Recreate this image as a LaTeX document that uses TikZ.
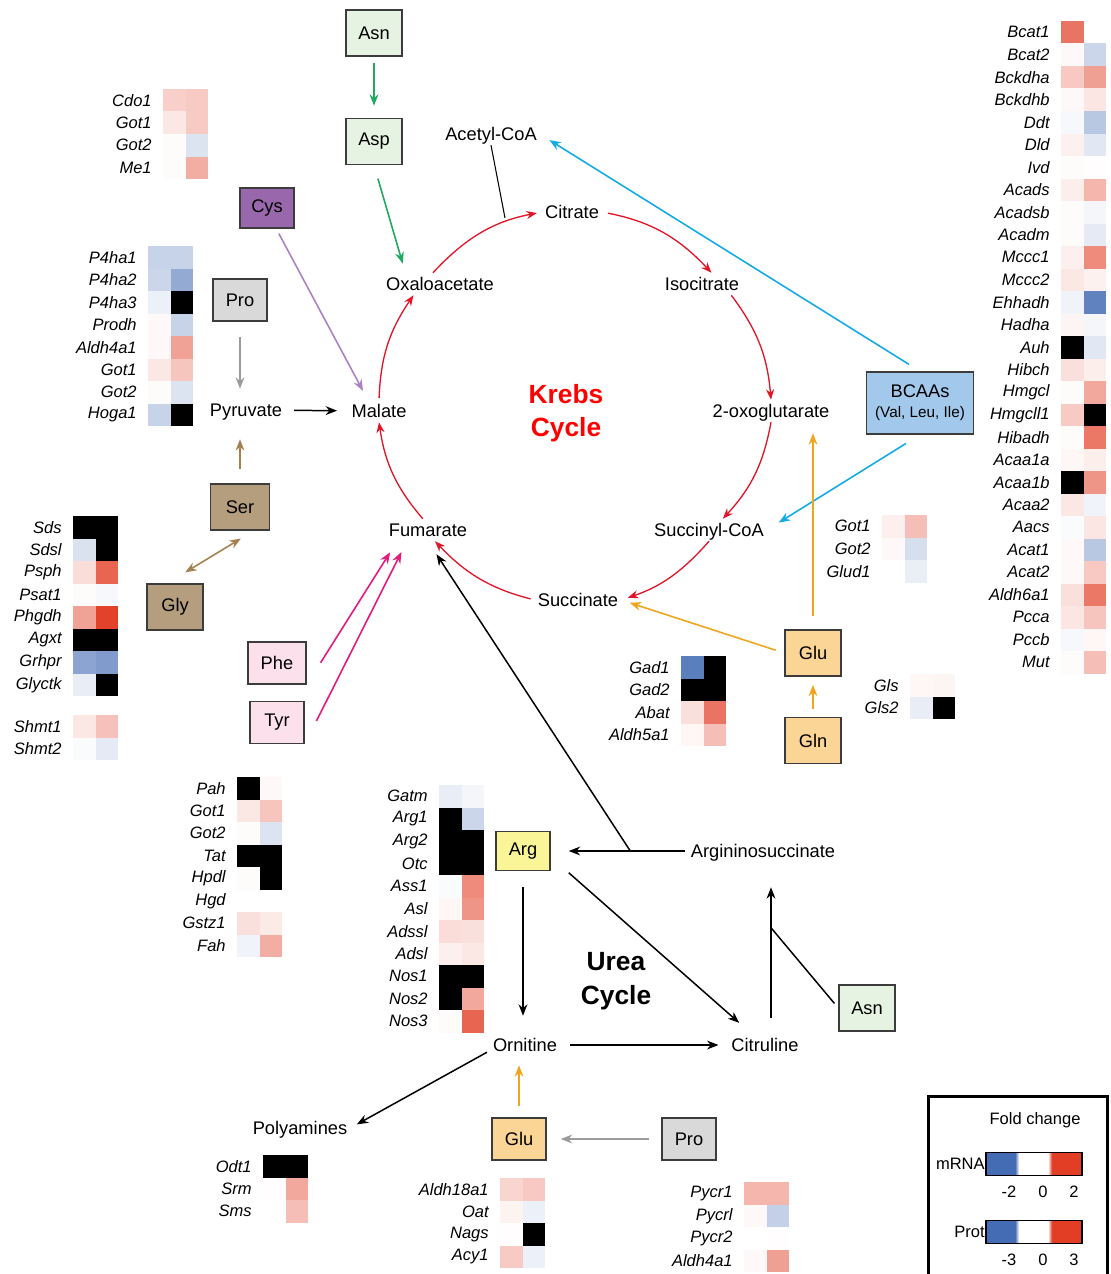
\documentclass[tikz,border=0pt]{standalone}
\usepackage{fontspec}
\setmainfont{Liberation Sans}
\usetikzlibrary{calc,positioning,arrows.meta}

\definecolor{hred}{RGB}{226,62,38}
\definecolor{hblue}{RGB}{68,108,180}
\definecolor{krebsred}{RGB}{225,20,40}
\definecolor{boxline}{RGB}{60,60,60}
\definecolor{fgreen}{RGB}{230,243,226}
\definecolor{agreen}{RGB}{30,170,95}
\definecolor{fpurple}{RGB}{153,104,172}
\definecolor{apurple}{RGB}{170,130,195}
\definecolor{fgray}{RGB}{217,217,217}
\definecolor{agray}{RGB}{155,155,155}
\definecolor{ftan}{RGB}{181,158,125}
\definecolor{atan}{RGB}{165,128,80}
\definecolor{fpink}{RGB}{252,225,236}
\definecolor{amag}{RGB}{230,25,125}
\definecolor{fblue}{RGB}{162,201,236}
\definecolor{ablue}{RGB}{20,170,230}
\definecolor{forange}{RGB}{250,213,150}
\definecolor{aorange}{RGB}{240,165,30}
\definecolor{fyellow}{RGB}{250,245,150}

% one heat map cell: x, y (top), value (999 = black, -999 = empty)
\newcommand{\hcell}[3]{%
  \ifnum#3=999
    \fill[black] (#1,-#2) rectangle ++(22.6,-22.6);
  \else\ifnum#3=-999\relax
  \else\ifnum#3<0
    \edef\hv{\number\numexpr 0-#3\relax}%
    \fill[hblue!\hv!white] (#1,-#2) rectangle ++(22.6,-22.6);
  \else
    \fill[hred!#3!white] (#1,-#2) rectangle ++(22.6,-22.6);
  \fi\fi\fi}

% gene list with two columns (mRNA, Prot)
\newcommand{\genemap}[4]{%
  \foreach \g/\a/\b [count=\i] in {#4} {
    \pgfmathsetmacro\yy{#3+22.5*(\i-1)}
    \pgfmathsetmacro\xx{#2+22.5}
    \hcell{#2}{\yy}{\a}
    \hcell{\xx}{\yy}{\b}
    \node[gene] (#1-\i) at (#2-11,-\yy-11.25) {\g};
  }}

\begin{document}
\begin{tikzpicture}[
    x=0.02cm, y=0.02cm,
    every node/.append style={inner sep=2pt},
    >={Stealth[length=6.5pt,width=5pt]},
    met/.style={font=\fontsize{10.4}{12}\selectfont, text height=8.4pt, text depth=1pt, inner sep=1.5pt},
    box/.style={draw=boxline, line width=0.85pt, font=\fontsize{10.4}{12}\selectfont,
                minimum width=1.08cm, minimum height=0.84cm},
    tall/.style={minimum width=1.12cm, minimum height=0.92cm},
    gene/.style={font=\fontsize{9.4}{11}\selectfont\itshape, anchor=east, inner sep=0pt},
    cycname/.style={font=\fontsize{15}{19}\selectfont\bfseries, align=center},
    legtxt/.style={font=\fontsize{9.4}{11}\selectfont, inner sep=0pt},
    krebs/.style={krebsred, line width=0.75pt, ->, >={Stealth[length=6pt,width=4.6pt]}},
    blackarr/.style={black, line width=0.85pt, ->},
    greenarr/.style={agreen, line width=0.9pt, ->},
    purplearr/.style={apurple, line width=0.9pt, ->},
    grayarr/.style={agray, line width=0.9pt, ->},
    tanarr/.style={atan, line width=0.9pt, ->},
    magarr/.style={amag, line width=0.9pt, ->},
    bluearr/.style={ablue, line width=0.9pt, ->},
    orangearr/.style={aorange, line width=0.9pt, ->}
  ]
  \useasboundingbox (0,0) rectangle (1110,-1274);

  % Krebs cycle
  \node[met] (ACoA) at (491,-134) {Acetyl-CoA};
  \node[met] (Cit)  at (572,-212) {Citrate};
  \node[met] (Oxa)  at (440,-284) {Oxaloacetate};
  \node[met] (Iso)  at (702,-284) {Isocitrate};
  \node[met] (Mal)  at (379,-411) {Malate};
  \node[met] (Oxo)  at (771,-411) {2-oxoglutarate};
  \node[met] (Fum)  at (428,-530) {Fumarate};
  \node[met] (SCoA) at (709,-530) {Succinyl-CoA};
  \node[met] (Suc)  at (578,-600) {Succinate};
  \node[met] (Pyr)  at (246,-410) {Pyruvate};
  \node[cycname, text=red] (KC) at (566,-413) {Krebs\\Cycle};

  \draw[krebs, shorten <=1pt] (Mal.north) to[bend left=16] (Oxa.203);
  \draw[krebs, shorten >=3pt] (Oxa.122) to[bend left=18] (Cit.west);
  \draw[krebs, shorten <=3.5pt] (Cit.east) to[bend left=18] (Iso.50);
  \draw[krebs] (Iso.-21) to[bend left=16] (Oxo.north);
  \draw[krebs] (Oxo.south) to[bend left=16] (SCoA.39);
  \draw[krebs, shorten >=4pt] (SCoA.south) to[bend left=15] (Suc.east);
  \draw[krebs, shorten <=2.5pt] (Suc.west) to[bend left=16] (Fum.-58);
  \draw[krebs] (Fum.115) to[bend left=16] (Mal.south);
  \coordinate (CitIn) at (505,-218);
  \draw[line width=0.6pt] (ACoA.south) -- (CitIn);

  % amino acids around the Krebs cycle
  \node[box, tall, fill=fgreen] (Asn) at (374,-33) {Asn};
  \node[box, tall, fill=fgreen, below=1.22cm of Asn] (Asp) {Asp};
  \node[box, fill=fpurple, minimum height=0.8cm] (Cys) at (267,-208) {Cys};
  \node[box, fill=fgray] (Pro) at (240,-300) {Pro};
  \node[box, tall, minimum width=1.18cm, fill=ftan] (Ser) at (240,-507) {Ser};
  \node[box, tall, fill=ftan] (Gly) at (175,-607) {Gly};
  \node[box, minimum width=1.16cm, fill=fpink] (Phe) at (277,-663) {Phe};
  \node[box, fill=fpink, below=0.32cm of Phe] (Tyr) {Tyr};
  \node[box, fill=fblue, minimum width=2.14cm, minimum height=1.24cm, align=center,
        font=\fontsize{10.4}{11.5}\selectfont] (BCAA) at (920,-403)
        {BCAAs\\{\fontsize{8.7}{10}\selectfont (Val, Leu, Ile)}};
  \node[box, tall, fill=forange] (Glu) at (813,-653) {Glu};
  \node[box, tall, fill=forange, below=0.8cm of Glu] (Gln) {Gln};

  \draw[greenarr, shorten <=0.12cm, shorten >=0.24cm] (Asn) -- (Asp);
  \draw[greenarr, shorten <=0.28cm, shorten >=0.19cm] (Asp.south) -- (Oxa.162);
  \draw[purplearr, shorten <=0.11cm, shorten >=0.2cm] (Cys.-66) -- (Mal.135);
  \draw[grayarr, shorten <=0.3cm, shorten >=0.2cm] (Pro.south) -- (Pro.south |- Pyr.north);
  \draw[tanarr, shorten <=0.28cm, shorten >=0.36cm] (Ser.north) -- (Ser.north |- Pyr.south);
  \draw[blackarr, shorten <=0.18cm, shorten >=0.23cm] (Pyr) -- (Mal);
  \draw[tanarr, <->, shorten <=0.3cm, shorten >=0.42cm] (Ser.-60) -- (Gly.108);
  \draw[magarr, shorten <=0.52cm, shorten >=0.26cm] (Phe.south east) -- (Fum.200);
  \draw[magarr, shorten <=0.52cm, shorten >=0.24cm] (Tyr.south east) -- (Fum.208);
  \draw[bluearr, shorten <=0.26cm, shorten >=0.23cm] (BCAA.north) -- (ACoA.east);
  \draw[bluearr, shorten <=0.33cm, shorten >=0.28cm] (BCAA.south) -- (SCoA.east);
  \draw[orangearr, shorten <=0.26cm, shorten >=0.22cm] (Glu.north) -- (Glu.north |- Oxo.south);
  \draw[orangearr, shorten <=0.18cm, shorten >=0.18cm] (Glu.west) -- (Suc.east);
  \draw[orangearr, shorten <=0.16cm, shorten >=0.16cm] (Gln) -- (Glu);

  % Urea cycle
  \node[met] (ASuc) at (763,-851) {Argininosuccinate};
  \node[met] (Orn)  at (525,-1045) {Ornitine};
  \node[met] (Ctl)  at (765,-1045) {Citruline};
  \node[met] (Poly) at (300,-1128) {Polyamines};
  \node[cycname] (UC) at (616,-981) {Urea\\Cycle};
  \node[box, fill=fyellow, minimum height=0.78cm] (Arg) at (523,-851) {Arg};
  \node[box, tall, fill=fgreen] (AsnU) at (867,-1008) {Asn};
  \node[box, fill=forange] (GluU) at (519,-1139) {Glu};
  \node[box, fill=fgray] (ProU) at (689,-1139) {Pro};

  \draw[blackarr, shorten <=0.06cm, shorten >=0.36cm] (ASuc.west) -- (Arg.east);
  \draw[blackarr, shorten >=0.31cm] ($(Arg.east)!0.58!(ASuc.west)$) -- (Fum.south);
  \draw[blackarr, shorten <=0.32cm, shorten >=0.36cm] (Arg.south) -- (Arg.south |- Orn.north);
  \draw[blackarr, shorten <=0.48cm, shorten >=0.33cm] (Arg.-12) -- (Ctl.140);
  \draw[blackarr, shorten <=0.2cm, shorten >=0.2cm] (Orn) -- (Ctl);
  \draw[blackarr, shorten <=0.32cm, shorten >=0.5cm] ([xshift=0.12cm]Ctl.north) -- ([xshift=0.12cm]Ctl.north |- ASuc.south);
  \path ([xshift=0.12cm]Ctl.north) ++(0,106) coordinate (Join);
  \draw[line width=0.85pt, shorten <=0.12cm] (AsnU.west) -- (Join);
  \draw[blackarr, shorten <=0.07cm, shorten >=0.15cm] (Orn.189) -- (Poly.east);
  \draw[orangearr, shorten <=0.22cm, shorten >=0.18cm] (GluU.north) -- (GluU.north |- Orn.south);
  \draw[grayarr, shorten <=0.24cm, shorten >=0.28cm] (ProU) -- (GluU);

  % heat maps
  \genemap{cdo}{163}{89}{Cdo1/25/27, Got1/12/27, Got2/2/-18, Me1/2/42}
  \genemap{p4h}{148}{246}{P4ha1/-30/-30, P4ha2/-28/-58, P4ha3/-10/999, Prodh/3/-30,
    Aldh4a1/3/48, Got1/12/30, Got2/2/-18, Hoga1/-30/999}
  \genemap{sds}{73}{516}{Sds/999/999, Sdsl/-20/999, Psph/18/80, Psat1/2/-5,
    Phgdh/48/98, Agxt/999/999, Grhpr/-62/-68, Glyctk/-12/999}
  \genemap{shm}{73}{715}{Shmt1/12/32, Shmt2/-3/-14}
  \genemap{pah}{237}{777}{Pah/999/3, Got1/12/30, Got2/2/-18, Tat/999/999,
    Hpdl/2/999, Hgd/-999/-999, Gstz1/16/11, Fah/-8/42}
  \genemap{gat}{439}{785}{Gatm/-12/-6, Arg1/999/-28, Arg2/999/999, Otc/999/999,
    Ass1/-3/60, Asl/4/55, Adssl/18/16, Adsl/8/12, Nos1/999/999, Nos2/999/45, Nos3/2/80}
  \genemap{bca}{1061}{21}{Bcat1/72/0, Bcat2/3/-28, Bckdha/28/50, Bckdhb/3/13,
    Ddt/-5/-38, Dld/7/-16, Ivd/2/1, Acads/9/38, Acadsb/2/-6, Acadm/2/-14,
    Mccc1/8/60, Mccc2/12/7, Ehhadh/-8/-85, Hadha/5/-6, Auh/999/-16, Hibch/16/9,
    Hmgcl/2/45, Hmgcll1/27/999, Hibadh/2/70, Acaa1a/4/9, Acaa1b/999/55,
    Acaa2/12/-8, Aacs/-3/13, Acat1/3/-38, Acat2/3/28, Aldh6a1/16/70,
    Pcca/13/30, Pccb/-5/4, Mut/2/33}
  \genemap{got}{882}{515}{Got1/8/33, Got2/3/-22, Glud1/-999/-11}
  \genemap{gad}{681}{656}{Gad1/-88/999, Gad2/999/999, Abat/16/72, Aldh5a1/4/33}
  \genemap{gls}{910}{674}{Gls/4/5, Gls2/-12/999}
  \genemap{odc}{263}{1155}{Odt1/999/999, Srm/1/45, Sms/-999/33}
  \genemap{ald}{500}{1178}{Aldh18a1/22/28, Oat/6/-10, Nags/1/999, Acy1/27/-10}
  \genemap{pyc}{744}{1182}{Pycr1/38/38, Pycrl/3/-32, Pycr2/0/1, Aldh4a1/3/50}

  % legend
  \draw[line width=0.06cm] (928,-1096) rectangle (1107,-1300);
  \node[legtxt] (FC) at (1035,-1120) {Fold change};
  \foreach \yb/\lab/\lo/\hi in {1164/mRNA/-2/2, 1232/Prot/-3/3} {
    \fill[hblue] (986,-\yb+11.5) rectangle (1015,-\yb-11.5);
    \shade[left color=hblue, right color=white] (1015,-\yb+11.5) rectangle (1019,-\yb-11.5);
    \shade[left color=white, right color=hred] (1048,-\yb+11.5) rectangle (1052,-\yb-11.5);
    \fill[hred] (1052,-\yb+11.5) rectangle (1082,-\yb-11.5);
    \draw[line width=0.7pt] (986,-\yb+11.5) rectangle (1082,-\yb-11.5);
    \node[legtxt, anchor=east] (lab-\yb) at (985,-\yb) {\lab};
    \node[legtxt] (lo-\yb) at (1009,-\yb-28) {\lo};
    \node[legtxt] (mid-\yb) at (1043,-\yb-28) {0};
    \node[legtxt] (hi-\yb) at (1074,-\yb-28) {\hi};
  }
\end{tikzpicture}
\end{document}
